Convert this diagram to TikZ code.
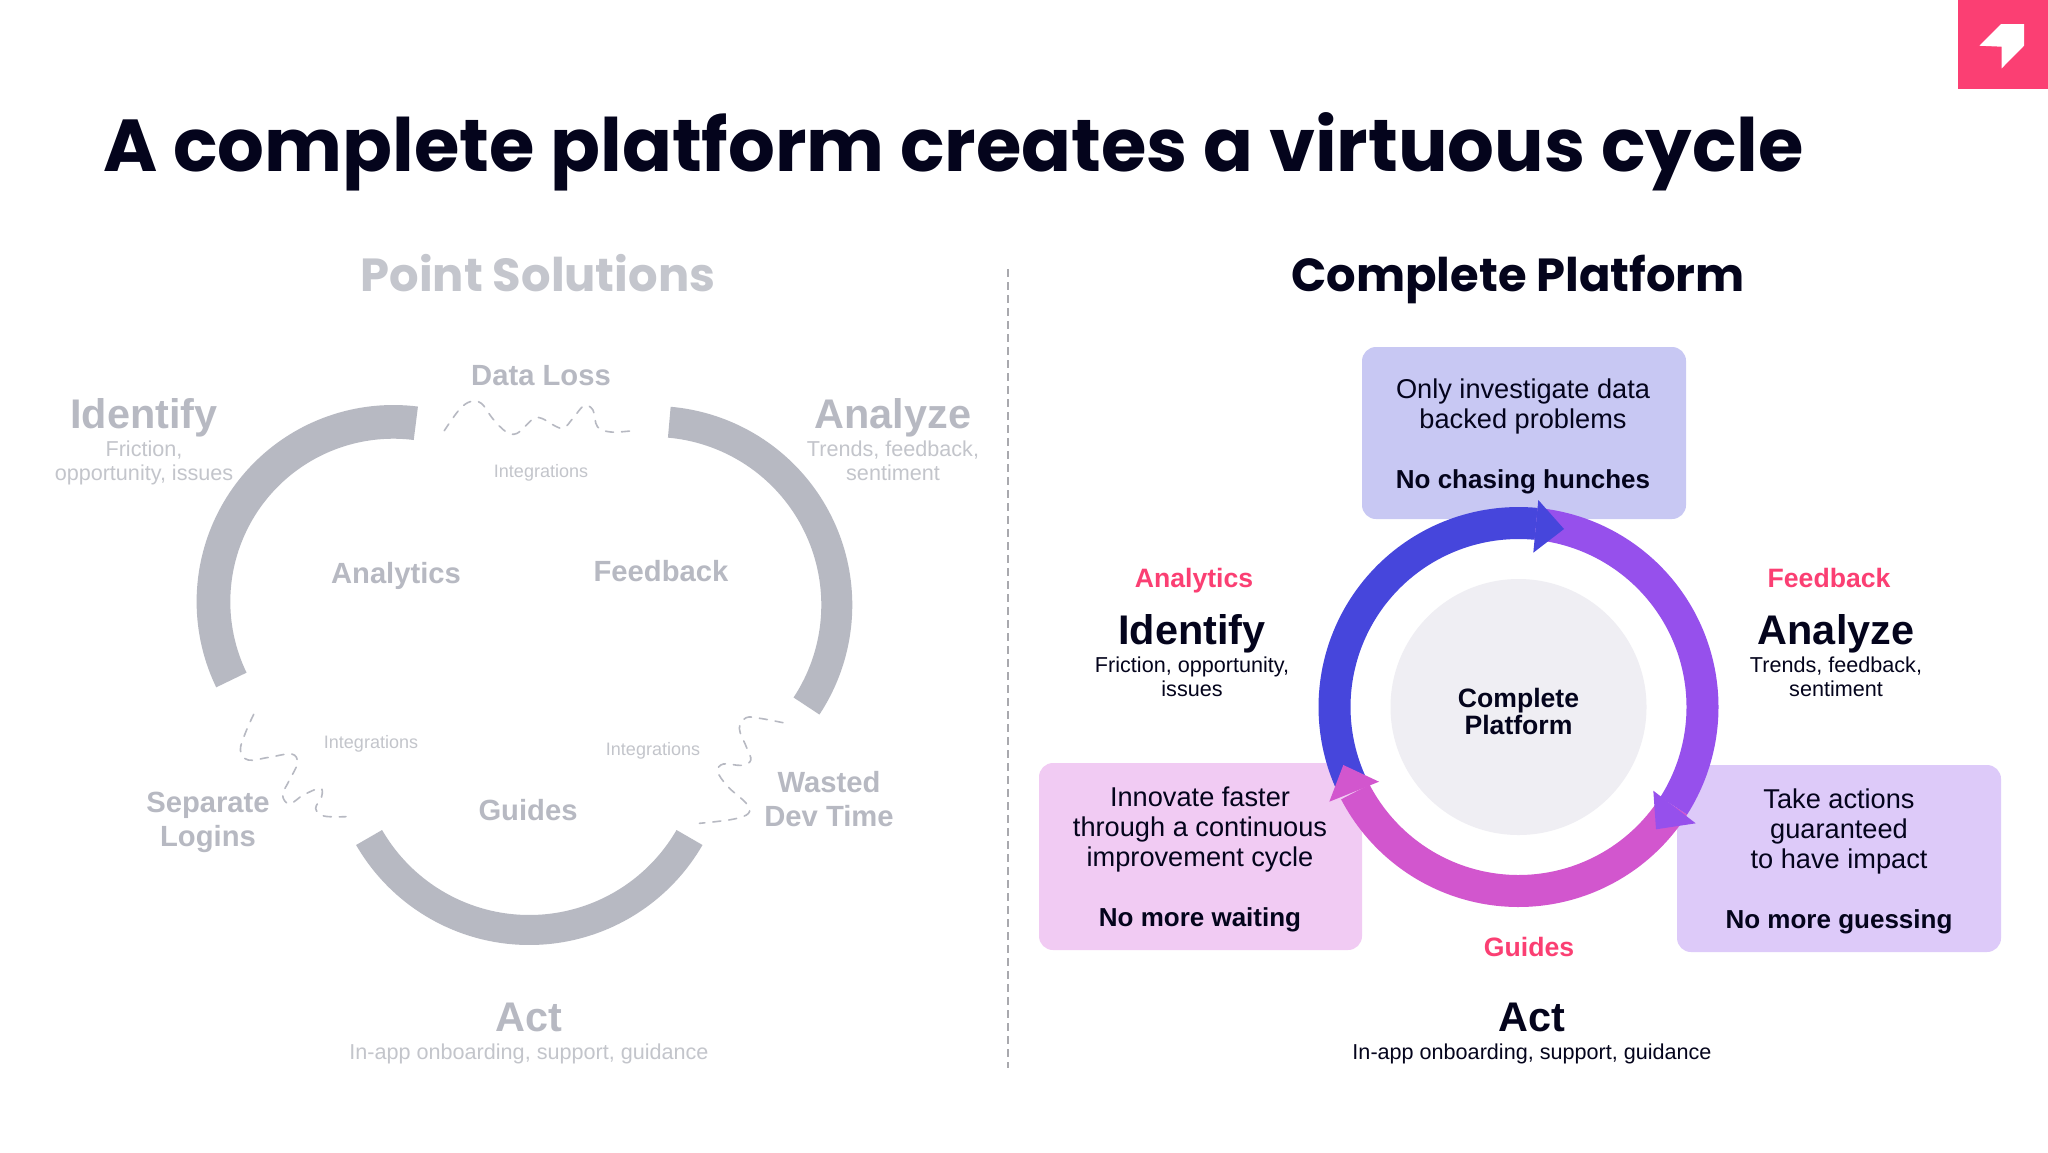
\documentclass[tikz,border=0pt]{standalone}
\usepackage{fontspec}
\setmainfont{Liberation Sans}
\newfontfamily\headfont{Poppins}
\definecolor{ink}{HTML}{04041C}
\definecolor{ghost}{HTML}{B7B9C2}
\definecolor{ghosthead}{HTML}{C4C6CD}
\definecolor{ghostsmall}{HTML}{C3C5CB}
\definecolor{ringblue}{HTML}{4646DC}
\definecolor{ringviolet}{HTML}{9650EC}
\definecolor{ringpink}{HTML}{D256CE}
\definecolor{boxblue}{HTML}{C8C8F3}
\definecolor{boxpink}{HTML}{F1CBF3}
\definecolor{boxviolet}{HTML}{DDCAF9}
\definecolor{accent}{HTML}{FB3F73}
\definecolor{hubgray}{HTML}{EFEEF3}
\definecolor{divider}{HTML}{A9A9AE}
\tikzset{
  x=0.5pt,y=-0.5pt,
  txt/.style={inner sep=0pt,align=center,anchor=center},
  title/.style={txt,text=ink,font=\headfont\bfseries\fontsize{36.8pt}{44pt}\selectfont},
  panelhead/.style={txt,font=\headfont\bfseries\fontsize{23.2pt}{28pt}\selectfont},
  stagehead/.style={inner sep=0pt,anchor=base,font=\bfseries\fontsize{20.7pt}{24pt}\selectfont},
  stagesub/.style={txt,font=\fontsize{10.8pt}{12pt}\selectfont},
  ghostlabel/.style={txt,text=ghost,font=\bfseries\fontsize{14.6pt}{17pt}\selectfont},
  tinylabel/.style={txt,text=ghostsmall,font=\fontsize{9pt}{11pt}\selectfont},
  pinklabel/.style={txt,text=accent,font=\bfseries\fontsize{13.3pt}{17pt}\selectfont},
  boxtext/.style={txt,text=ink,font=\fontsize{13.6pt}{15pt}\selectfont},
  boxbold/.style={txt,text=ink,font=\bfseries\fontsize{13pt}{15pt}\selectfont},
  wiggle/.style={draw=ghost,line width=0.8pt,dash pattern=on 4pt off 4pt,line cap=round},
  panel/.style={draw=none,rounded corners=7pt}
}
% #1 colour, #2 cx, #3 cy, #4 outer R, #5 inner R, #6 start angle, #7 end angle
\newcommand{\ringband}[7]{%
  \fill[#1] plot[domain=#6:#7,samples=80] ({#2+#4*cos(\x)},{#3-#4*sin(\x)})
   -- plot[domain=#7:#6,samples=80] ({#2+#5*cos(\x)},{#3-#5*sin(\x)}) -- cycle;}
\begin{document}
\begin{tikzpicture}
\useasboundingbox (0,0) rectangle (2048,1152);
\fill[white] (0,0) rectangle (2048,1152);
% logo
\fill[accent] (1958,0) rectangle (2048,89);
\fill[white] (1979.3,45.7) -- (2001,24) -- (2024,24) -- (2024,45.7) -- (2001.7,68.3) -- (2001.7,46.7) -- cycle;
% title
\node[title] (maintitle) at (953.5,152) {A complete platform creates a virtuous cycle};
\node[panelhead,text=ghosthead] (pointhead) at (538,273) {Point Solutions};
\node[panelhead,text=ink] (planhead) at (1518,279) {Complete Platform};
% divider
\coordinate (divtop) at (1008,269);
\coordinate (divbot) at (1008,1068);
\draw[divider,line width=0.8pt,dash pattern=on 4pt off 2.5pt] (divtop) -- (divbot);

% left: arcs
\ringband{ghost}{393.3}{601.7}{196.7}{163}{82.8}{205.8}
\ringband{ghost}{653.3}{605}{199}{168}{85}{-33.4}
\ringband{ghost}{529.3}{745}{200}{170}{210}{330}
\begin{scope}[shift={(180,360)},x=0.5pt/2.24,y=-0.5pt/3]
\draw[wiggle] plot[smooth,tension=0.6] coordinates {(592,212)(625,150)(650,125)(675,130)(700,175)(730,215)(755,220)(790,178)(810,175)(855,205)(880,175)(905,137)(925,150)(935,200)(965,216)(1015,212)};
\end{scope}
\begin{scope}[shift={(200,680)},x=0.5pt/2.178,y=-0.5pt/3]
\draw[wiggle] plot[smooth,tension=0.6] coordinates {(117,103)(100,155)(88,210)(105,240)(150,232)(200,222)(212,250)(195,300)(180,345)(195,372)(225,345)(262,325)(265,350)(252,385)(270,408)(318,410)};
\draw[wiggle] plot[smooth,tension=0.6] coordinates {(1270,128)(1220,115)(1190,113)(1175,145)(1190,200)(1200,240)(1180,256)(1140,252)(1128,275)(1150,320)(1190,370)(1195,400)(1160,418)(1088,430)};
\end{scope}

% left: texts
\node[ghostlabel] (lossl) at (541,376) {Data Loss};
\node[stagehead,text=ghost] (idl) at (144,428) {Identify};
\node[stagesub,text=ghostsmall] (idlsub) at (144,463) {Friction,\\opportunity, issues};
\node[stagehead,text=ghost] (anl) at (893,428) {Analyze};
\node[stagesub,text=ghostsmall] (anlsub) at (893,461) {Trends, feedback,\\sentiment};
\node[tinylabel] (int1) at (541,472.5) {Integrations};
\node[tinylabel] (int2) at (371,744) {Integrations};
\node[tinylabel] (int3) at (653,751) {Integrations};
\node[ghostlabel] (analyticsl) at (396,576) {Analytics};
\node[ghostlabel] (feedbackl) at (661,571) {Feedback};
\node[ghostlabel] (guidesl) at (528,810) {Guides};
\node[ghostlabel] (seplog) at (208,822) {Separate\\Logins};
\node[ghostlabel] (wasted) at (829,799) {Wasted\\Dev Time};
\node[stagehead,text=ghost] (actl) at (529,1031) {Act};
\node[stagesub,text=ghostsmall] (actlsub) at (529,1054) {In-app onboarding, support, guidance};

% right: boxes
\fill[boxblue,panel] (1362,347) rectangle (1686,519);
\fill[boxpink,panel] (1039,763) rectangle (1362,950);
\fill[boxviolet,panel] (1677,765) rectangle (2001,952);
\node[boxtext] (boxt1) at (1523,406) {Only investigate data\\backed problems};
\node[boxbold] (boxb1) at (1523,482) {No chasing hunches};
\node[boxtext] (boxt2) at (1200,829.5) {Innovate faster\\through a continuous\\improvement cycle};
\node[boxbold] (boxb2) at (1200,920) {No more waiting};
\node[boxtext] (boxt3) at (1839,831) {Take actions\\guaranteed\\to have impact};
\node[boxbold] (boxb3) at (1839,922) {No more guessing};

% right: ring
\fill[white] (1518.5,707) circle[radius=170];
\ringband{ringblue}{1518.5}{707}{200}{168}{84.5}{205}
\ringband{ringpink}{1518.5}{707}{200}{168}{207.5}{327.5}
\ringband{ringviolet}{1518.5}{707}{200}{168}{-32.5}{84.5}
\fill[ringblue] (1538.3,500) -- (1564,529) -- (1533.3,552.7) -- cycle;
\fill[ringpink] (1343.3,765) -- (1379,781.7) -- (1329.3,801.7) -- cycle;
\fill[ringviolet] (1653.3,790.7) -- (1695.7,823.3) -- (1656,829.3) -- cycle;
\node[circle,fill=hubgray,minimum size=128pt,inner sep=0pt] (hub) at (1518.5,707) {};
\node[txt,text=ink,font=\bfseries\fontsize{13.3pt}{11.6pt}\selectfont] (hubtext) at (1518.5,711.5) {Complete\\Platform};

% right: texts
\node[pinklabel] (analyticsr) at (1194,581) {Analytics};
\node[pinklabel] (feedbackr) at (1829,578) {Feedback};
\node[pinklabel] (guidesr) at (1529,947) {Guides};
\node[stagehead,text=ink] (idr) at (1192,644) {Identify};
\node[stagesub,text=ink] (idrsub) at (1192,677) {Friction, opportunity,\\issues};
\node[stagehead,text=ink] (anr) at (1836,644) {Analyze};
\node[stagesub,text=ink] (anrsub) at (1836,677) {Trends, feedback,\\sentiment};
\node[stagehead,text=ink] (actr) at (1532,1031) {Act};
\node[stagesub,text=ink] (actrsub) at (1532,1054) {In-app onboarding, support, guidance};
\end{tikzpicture}
\end{document}
